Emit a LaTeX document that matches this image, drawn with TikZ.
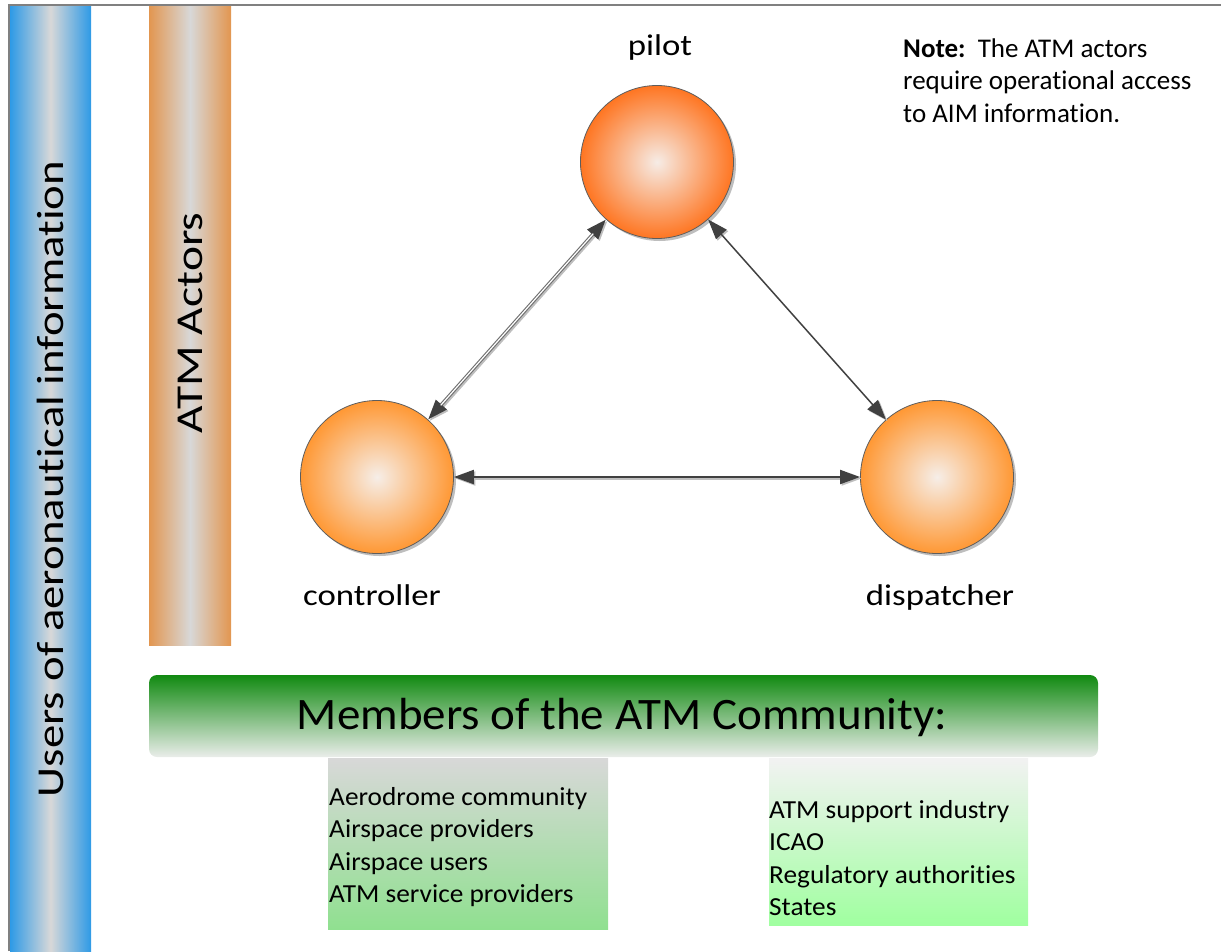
\documentclass[tikz,border=0pt]{standalone}
\usepackage{fontspec}
\setmainfont{Carlito}[Ligatures=NoCommon]
\newfontfamily\fsUsers{Carlito}[FakeStretch=1.23,Ligatures=NoCommon]
\newfontfamily\fsActors{Carlito}[FakeStretch=1.25,Ligatures=NoCommon]
\newfontfamily\fsLbl{Carlito}[FakeStretch=1.16,Ligatures=NoCommon]
\newfontfamily\fsBanner{Carlito}[FakeStretch=1.045,Ligatures=NoCommon]
\newfontfamily\fsList{Carlito}[FakeStretch=1.05,Ligatures=NoCommon]
\usetikzlibrary{arrows.meta,shadows}

\definecolor{framegray}{RGB}{128,128,128}
\definecolor{barblue}{RGB}{46,154,230}
\definecolor{barmid}{RGB}{216,216,216}
\definecolor{barorange}{RGB}{226,150,80}
\definecolor{pilotorange}{RGB}{255,108,18}
\definecolor{pilotcenter}{RGB}{246,236,230}
\definecolor{actororange}{RGB}{255,152,52}
\definecolor{actorcenter}{RGB}{246,238,232}
\definecolor{arrowgray}{RGB}{64,64,64}
\definecolor{linegray}{RGB}{110,110,110}
\definecolor{shadowgray}{RGB}{190,190,190}
\definecolor{bannergreen}{RGB}{17,138,17}
\definecolor{bannerlight}{RGB}{234,237,234}
\definecolor{boxAtop}{RGB}{216,216,216}
\definecolor{boxAbot}{RGB}{144,224,144}
\definecolor{boxBtop}{RGB}{242,242,242}
\definecolor{boxBbot}{RGB}{160,255,160}

\pgfdeclareradialshading{pilotball}{\pgfpoint{0bp}{0bp}}{color(0bp)=(pilotcenter); color(27bp)=(pilotorange); color(50bp)=(pilotorange)}
\pgfdeclareradialshading{actorball}{\pgfpoint{0bp}{0bp}}{color(0bp)=(actorcenter); color(25bp)=(actororange); color(50bp)=(actororange)}

\tikzset{
  actor/.style={circle, minimum size=153pt, inner sep=0pt, draw=arrowgray!85, line width=0.8pt,
    drop shadow={shadow xshift=2.5pt, shadow yshift=-2.5pt, fill=shadowgray, opacity=1}},
  lbl/.style={anchor=base, font=\fsLbl\fontsize{30}{36}\selectfont},
  listtext/.style={anchor=base west, inner sep=0pt, font=\fsList\fontsize{26}{30}\selectfont},
  notetext/.style={anchor=base west, inner sep=0pt, font=\fontsize{27}{32}\selectfont},
  headtip/.tip={Triangle[length=20pt,width=14pt]},
}

\begin{document}
\begin{tikzpicture}[x=1pt,y=-1pt]
\useasboundingbox (0,0) rectangle (1221,951);

% frame
\draw[framegray, line width=2pt] (9,951) -- (9,5) -- (1221,5);

% vertical bars
\shade[left color=barblue, right color=barblue, middle color=barmid] (10,6) rectangle (91,951);
\shade[left color=barorange, right color=barorange, middle color=barmid] (149,6) rectangle (231,645);
\node[rotate=90, font=\fsUsers\fontsize{38}{44}\selectfont, inner sep=0pt] (users) at (50,479) {Users of aeronautical information};
\node[rotate=90, font=\fsActors\fontsize{38}{44}\selectfont, inner sep=0pt] (actors) at (190,323) {ATM Actors};

% actors
\node[actor, shading=pilotball] (pilot) at (657,162) {};
\node[actor, shading=actorball] (controller) at (377,477) {};
\node[actor, shading=actorball] (dispatcher) at (937,477) {};

\node[lbl] (pilotlbl) at (660,55) {pilot};
\node[lbl] (controllerlbl) at (372,605) {controller};
\node[lbl] (dispatcherlbl) at (940,605) {dispatcher};

% connectors
% pilot - controller (double line)
\draw[shadowgray, line width=3.4pt, {headtip}-{headtip}, transform canvas={shift={(1.5pt,-1.5pt)}}] (pilot) -- (controller);
\draw[linegray, line width=3.4pt, {headtip[fill=arrowgray,color=arrowgray]}-{headtip[fill=arrowgray,color=arrowgray]}] (pilot) -- (controller);
\draw[white, line width=1.2pt, shorten <=19pt, shorten >=19pt] (pilot) -- (controller);
% pilot - dispatcher (single line)
\draw[shadowgray, line width=1.4pt, {headtip}-{headtip}, transform canvas={shift={(1.5pt,-1.5pt)}}] (pilot) -- (dispatcher);
\draw[arrowgray, line width=1.4pt, {headtip}-{headtip}] (pilot) -- (dispatcher);
% controller - dispatcher
\draw[shadowgray, line width=2pt, {headtip}-{headtip}, transform canvas={shift={(1.5pt,-1.5pt)}}] (controller) -- (dispatcher);
\draw[arrowgray, line width=2pt, {headtip}-{headtip}] (controller) -- (dispatcher);

% note
\node[notetext] (note1) at (903,57) {\textbf{Note:}\ \ The ATM actors};
\node[notetext] (note2) at (903,89.5) {require operational access};
\node[notetext] (note3) at (903,122) {to AIM information.};

% banner
\shade[top color=bannergreen, bottom color=bannerlight, rounded corners=8pt] (149,675) rectangle (1098,757);
\node[font=\fsBanner\fontsize{45}{52}\selectfont, inner sep=0pt] (banner) at (622,717) {Members of the ATM Community:};

% member boxes
\shade[top color=boxAtop, bottom color=boxAbot] (328,758) rectangle (608,929);
\shade[top color=boxBtop, bottom color=boxBbot] (769,758) rectangle (1028,925);

\node[listtext] (a1) at (329,805) {Aerodrome community};
\node[listtext] (a2) at (329,837.5) {Airspace providers};
\node[listtext] (a3) at (329,870) {Airspace users};
\node[listtext] (a4) at (329,902.5) {ATM service providers};

\node[listtext] (b1) at (769,818) {ATM support industry};
\node[listtext] (b2) at (769,850.5) {ICAO};
\node[listtext] (b3) at (769,883) {Regulatory authorities};
\node[listtext] (b4) at (769,915.5) {States};
\end{tikzpicture}
\end{document}
